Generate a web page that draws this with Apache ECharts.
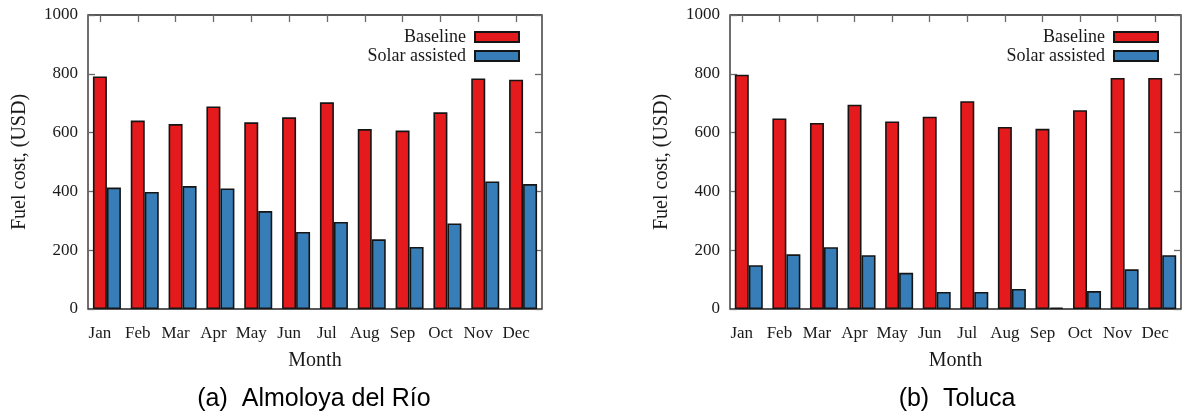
<!DOCTYPE html>
<html>
<head>
<meta charset="utf-8">
<script src="https://cdn.jsdelivr.net/npm/echarts@6/dist/echarts.min.js"></script>
<style>
  html, body { margin: 0; padding: 0; background: #fff; }
  #chart { width: 1182px; height: 415px; }
</style>
</head>
<body>
<div id="chart"></div>
<script>
// Monthly fuel cost (USD), baseline vs. solar-assisted heating
const months = ['Jan', 'Feb', 'Mar', 'Apr', 'May', 'Jun', 'Jul', 'Aug', 'Sep', 'Oct', 'Nov', 'Dec'];
const seriesNames = ['Baseline', 'Solar assisted'];

const almoloyaBaseline = [791, 641, 629, 689, 635, 652, 703, 612, 607, 669, 784, 780];
const almoloyaSolar    = [413, 398, 418, 410, 333, 262, 296, 237, 211, 291, 434, 425];

const tolucaBaseline = [797, 648, 633, 695, 638, 654, 707, 619, 613, 676, 786, 786];
const tolucaSolar    = [149, 186, 210, 183, 123, 58, 58, 68, 5, 61, 135, 183];

const panelTitles = ['(a)  Almoloya del Río', '(b)  Toluca'];

const yMin = 0, yMax = 1000, yStep = 200;

const SERIF = 'Liberation Serif';
const RED = '#e41a1c';
const BLUE = '#377eb8';
const INK = '#1a1a1a';
const TICK = '#6a6a6a';

// layout of the two panels
const panels = [
  { left: 88,  width: 454, baseline: almoloyaBaseline, solar: almoloyaSolar, title: panelTitles[0], titleX: 309 },
  { left: 730, width: 451, baseline: tolucaBaseline,   solar: tolucaSolar,   title: panelTitles[1], titleX: 952 }
];
const TOP = 15, HEIGHT = 294;
const BAR_W = 14;
const SHIFT = 7; // category ticks/labels sit under the first bar of each cluster

const option = {
  animation: false,
  backgroundColor: '#fff',
  title: [],
  legend: [],
  grid: [],
  xAxis: [],
  yAxis: [],
  series: []
};

panels.forEach((p, i) => {
  const gMain = option.grid.length;
  option.grid.push({
    left: p.left, width: p.width, top: TOP, height: HEIGHT,
    show: true, borderColor: '#222', borderWidth: 1.3, backgroundColor: 'transparent'
  });
  const gShift = option.grid.length;
  option.grid.push({
    left: p.left - SHIFT, width: p.width, top: TOP, height: HEIGHT, show: false
  });

  // main category axis (carries the bars and the axis name)
  const xMain = option.xAxis.length;
  option.xAxis.push({
    type: 'category', gridIndex: gMain, data: months, position: 'bottom',
    axisLine: { show: false }, axisTick: { show: false }, axisLabel: { show: false },
    name: 'Month', nameLocation: 'middle', nameGap: 42,
    nameTextStyle: { fontFamily: SERIF, fontSize: 20, color: INK }
  });
  // month labels under the first bar of each cluster
  option.xAxis.push({
    type: 'category', gridIndex: gShift, data: months, position: 'bottom',
    axisLine: { show: false }, axisTick: { show: false },
    axisLabel: { fontFamily: SERIF, fontSize: 17, color: INK, margin: 16, interval: 0 }
  });
  // mirrored ticks along the top border
  option.xAxis.push({
    type: 'category', gridIndex: gShift, data: months, position: 'top',
    axisLine: { show: false }, axisLabel: { show: false },
    axisTick: { show: true, inside: true, length: 7, alignWithLabel: true, lineStyle: { color: TICK, width: 1.3 } }
  });

  const yMain = option.yAxis.length;
  option.yAxis.push({
    type: 'value', gridIndex: gMain, min: yMin, max: yMax, interval: yStep, position: 'left',
    splitLine: { show: false }, axisLine: { show: false },
    axisTick: { show: true, inside: true, length: 7, lineStyle: { color: TICK, width: 1.3 } },
    axisLabel: { fontFamily: SERIF, fontSize: 17, color: INK, margin: 10, formatter: (v) => String(v) },
    name: 'Fuel cost, (USD)', nameLocation: 'middle', nameGap: 58,
    nameTextStyle: { fontFamily: SERIF, fontSize: 20, color: INK }
  });
  option.yAxis.push({
    type: 'value', gridIndex: gMain, min: yMin, max: yMax, interval: yStep, position: 'right',
    splitLine: { show: false }, axisLine: { show: false }, axisLabel: { show: false },
    axisTick: { show: true, inside: true, length: 7, lineStyle: { color: TICK, width: 1.3 } }
  });
  option.yAxis.push({
    type: 'value', gridIndex: gShift, min: yMin, max: yMax, show: false
  });

  const barStyle = (c) => ({ color: c, borderColor: '#151515', borderWidth: 1.6 });
  option.series.push({
    type: 'bar', name: seriesNames[0], xAxisIndex: xMain, yAxisIndex: yMain,
    data: p.baseline, barWidth: BAR_W, barGap: '0%', itemStyle: barStyle(RED)
  });
  option.series.push({
    type: 'bar', name: seriesNames[1], xAxisIndex: xMain, yAxisIndex: yMain,
    data: p.solar, barWidth: BAR_W, barGap: '0%', itemStyle: barStyle(BLUE)
  });

  option.legend.push({
    data: seriesNames, orient: 'vertical', align: 'right', selectedMode: false,
    right: 1182 - (p.left + p.width) + 17, top: 23,
    itemWidth: 44, itemHeight: 10, itemGap: 1, icon: 'rect',
    textStyle: { fontFamily: SERIF, fontSize: 18, color: INK, padding: [0, 4, 0, 0] }
  });

  option.title.push({
    text: p.title, left: p.titleX, top: 382, textAlign: 'center',
    textStyle: { fontFamily: 'Liberation Sans', fontSize: 25, fontWeight: 'normal', color: '#000' }
  });
});

const chart = echarts.init(document.getElementById('chart'), null, { renderer: 'canvas' });
chart.setOption(option);
</script>
</body>
</html>
